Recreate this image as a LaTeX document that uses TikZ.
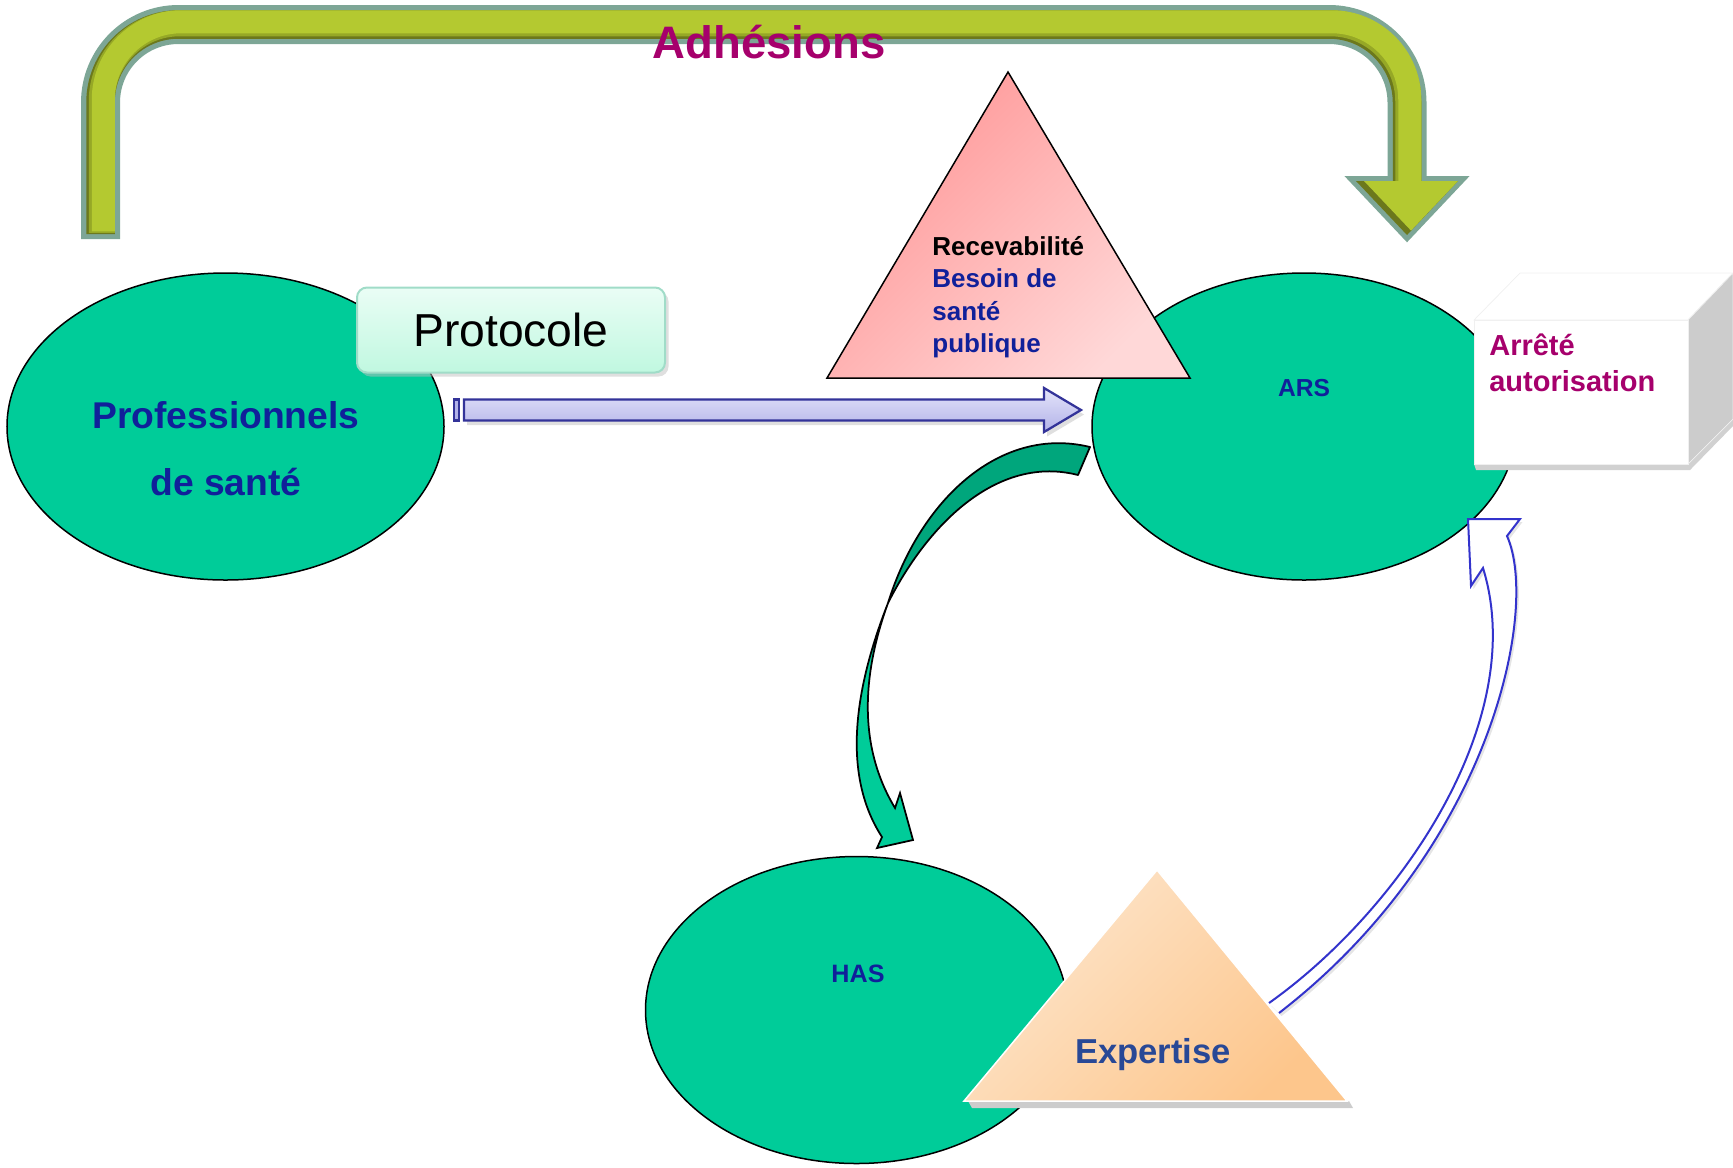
\documentclass[tikz,border=0pt]{standalone}
\usepackage{fontspec}
\setmainfont{Liberation Sans}
\usetikzlibrary{shapes.geometric,shadows}
\definecolor{ovalgreen}{RGB}{0,204,153}
\definecolor{backgreen}{RGB}{0,166,124}
\definecolor{textblue}{RGB}{16,32,154}
\definecolor{plum}{RGB}{166,0,108}
\definecolor{olive}{RGB}{180,201,48}
\definecolor{olivemid}{RGB}{150,168,38}
\definecolor{olivedark}{RGB}{108,120,28}
\definecolor{olivebd}{RGB}{125,166,150}
\definecolor{pinkA}{RGB}{255,150,150}
\definecolor{pinkB}{RGB}{255,216,216}
\definecolor{peachA}{RGB}{253,230,205}
\definecolor{peachB}{RGB}{253,198,140}
\definecolor{lavA}{RGB}{228,228,250}
\definecolor{lavB}{RGB}{178,178,232}
\definecolor{lavbd}{RGB}{51,51,153}
\definecolor{mintA}{RGB}{234,253,245}
\definecolor{mintB}{RGB}{192,248,224}
\definecolor{mintbd}{RGB}{160,220,200}
\definecolor{expblue}{RGB}{40,72,150}
\definecolor{arrowblue}{RGB}{51,51,204}
\begin{document}
\begin{tikzpicture}[x=0.2mm,y=-0.2mm,
  oval/.style={ellipse,draw=black,line width=0.3mm,fill=ovalgreen,inner sep=0,minimum height=61.4mm},
  bluetxt/.style={text=textblue,inner sep=0},
  pipebend/.style={rounded corners=15.6mm}]
  \useasboundingbox (0,0) rectangle (1733,1167);
  % Adhesions arrow
  \draw[olivebd,line width=7.8mm,pipebend] (100.5,239) -- (100.5,24.5) -- (1407,24.5) -- (1407,182);
  \filldraw[olivebd,line width=2mm,line join=miter] (1356,181) -- (1458,181) -- (1407,235) -- cycle;
  \draw[olivedark,line width=5.7mm,pipebend] (100.5,234) -- (100.5,24.5) -- (1407,24.5) -- (1407,192);
  \fill[olivedark] (1356,181) -- (1458,181) -- (1407,235) -- cycle;
  \draw[olivemid,line width=5.2mm,pipebend] (101.75,232.75) -- (101.75,23.25) -- (1408.25,23.25) -- (1408.25,192);
  \draw[olive,line width=4.6mm,pipebend] (103.25,231.25) -- (103.25,21.75) -- (1409.75,21.75) -- (1409.75,192);
  \fill[olive] (1364,181) -- (1458,181) -- (1411,230.6) -- cycle;
  \node[text=plum,font=\fontsize{25.9}{31}\selectfont\bfseries,inner sep=0] (adh) at (769,42) {Adhésions};
  % Professionnels de sante
  \node[oval,minimum width=87.4mm] (pro) at (225.5,426.5) {};
  \node[bluetxt,align=center,font=\fontsize{21.2}{38}\selectfont\bfseries] (protxt) at (226,449) {Professionnels\\de santé};
  \node[draw=mintbd,line width=0.4mm,rounded corners=2mm,top color=mintA,bottom color=mintB,
        minimum width=61.6mm,minimum height=17mm,font=\fontsize{26.3}{31}\selectfont,
        drop shadow={shadow xshift=0.7mm,shadow yshift=-0.8mm,fill=black!25}] (proto) at (511,330) {Protocole};
  % arrow to ARS
  \filldraw[draw=lavbd,line width=0.45mm,top color=lavA,bottom color=lavB,
        drop shadow={shadow xshift=0.6mm,shadow yshift=-0.9mm,fill=black!25}]
    (464,399.5) -- (1044,399.5) -- (1044,388) -- (1081,410) -- (1044,432) -- (1044,420.5) -- (464,420.5) -- cycle;
  \filldraw[draw=lavbd,line width=0.45mm,fill=lavB] (454,399.5) rectangle (459,420.5);
  % ARS
  \node[oval,minimum width=84.8mm] (ars) at (1304,426.5) {};
  \node[bluetxt,font=\fontsize{14}{17}\selectfont\bfseries] (arstxt) at (1304,388) {ARS};
  % Recevabilite
  \shade[top color=pinkA,bottom color=pinkB,shading angle=45] (1008,72) -- (1190,378) -- (827,378) -- cycle;
  \draw[black,line width=0.3mm,line join=miter] (1008,72) -- (1190,378) -- (827,378) -- cycle;
  \node[anchor=west,align=left,inner sep=0,font=\fontsize{14.8}{18.4}\selectfont\bfseries] (recev) at (932,297)
    {Recevabilité\\\textcolor{textblue}{Besoin de}\\\textcolor{textblue}{santé}\\\textcolor{textblue}{publique}};
  % arrete box
  \fill[black!18] (1474,464) -- (1688,464) -- (1733,419) -- (1733,426) -- (1690,470) -- (1476,470) -- cycle;
  \filldraw[fill=white,draw=black!6] (1474,320) -- (1520,273) -- (1733,273) -- (1688,320) -- cycle;
  \filldraw[fill=black!20,draw=black!6] (1688,320) -- (1733,273) -- (1733,419) -- (1688,464) -- cycle;
  \filldraw[fill=white,draw=black!6] (1474,320) rectangle (1688,464);
  \node[anchor=west,align=left,inner sep=0,text=plum,font=\fontsize{16.5}{20.5}\selectfont\bfseries] (arrete) at (1489,363)
    {Arrêté\\autorisation};
  % ARS to HAS
  \filldraw[fill=backgreen,draw=black,line width=0.35mm,line join=round]
    (1090,447) .. controls (1000,425) and (920,500) .. (888,603)
    .. controls (930,520) and (1000,455) .. (1078,475) -- cycle;
  \filldraw[fill=ovalgreen,draw=black,line width=0.35mm,line join=miter]
    (888,603) .. controls (850,700) and (845,780) .. (882,837)
    -- (877,848) -- (913,840) -- (900,793) -- (895,808)
    .. controls (860,750) and (860,680) .. (888,603) -- cycle;
  % HAS
  \node[oval,minimum width=84.4mm] (has) at (856.5,1010) {};
  \node[bluetxt,font=\fontsize{14.3}{17}\selectfont\bfseries] (hastxt) at (858,974) {HAS};
  % Expertise to ARS
  \filldraw[fill=white,draw=arrowblue,line width=0.4mm,line join=miter,
        drop shadow={shadow xshift=0.5mm,shadow yshift=-0.6mm,fill=black!20}]
    (1269,1003) .. controls (1400,910) and (1530,720) .. (1483,568)
    -- (1471,586) -- (1468,519) -- (1520,519) -- (1507,536)
    .. controls (1540,610) and (1490,850) .. (1279,1013);
  % Expertise
  \fill[black!20] (968,1101) -- (1349,1101) -- (1353,1108) -- (972,1108) -- cycle;
  \shade[top color=peachA,bottom color=peachB,shading angle=45] (1157,870) -- (1347,1101) -- (964,1101) -- cycle;
  \draw[white,line width=0.3mm] (1157,870) -- (1347,1101) -- (964,1101) -- cycle;
  \node[text=expblue,inner sep=0,font=\fontsize{19.7}{24}\selectfont\bfseries] (exp) at (1153,1055) {Expertise};
\end{tikzpicture}
\end{document}
